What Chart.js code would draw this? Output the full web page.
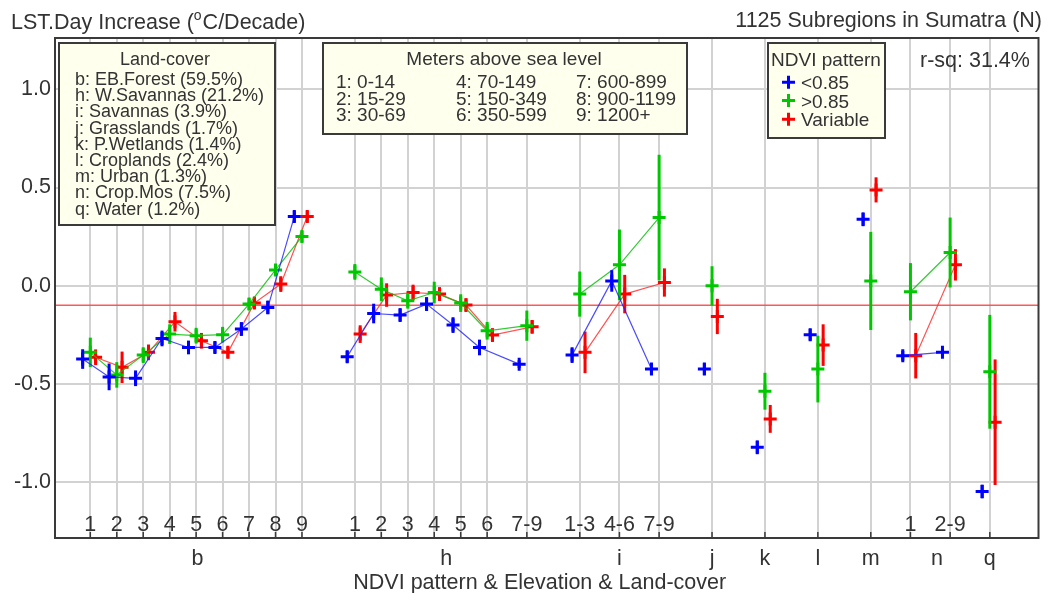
<!DOCTYPE html>
<html><head><meta charset="utf-8">
<script src="https://cdn.jsdelivr.net/npm/chart.js@4.4.1/dist/chart.umd.min.js"></script>
<style>html,body{margin:0;padding:0;background:#fff;overflow:hidden}#wrap{width:1048px;height:593px}</style>
</head><body><div id="wrap"><canvas id="c" width="1048" height="593"></canvas></div>
<script>
// ---------- data ----------
const categoryLabels = ['1','2','3','4','5','6','7','8','9','1','2','3','4','5','6','7-9','1-3','4-6','7-9','','','','','1','2-9',''];
const categoryPositions = [0,1,2,3,4,5,6,7,8,10,11,12,13,14,15,16.5,18.5,20,21.5,23.5,25.5,27.5,29.5,31,32.5,34];
const categoryGroups = ['b','b','b','b','b','b','b','b','b','h','h','h','h','h','h','h','i','i','i','j','k','l','m','n','n','q'];
const groupLabels = ['b','h','i','j','k','l','m','n','q'];
const groupPositions = [4.05,13.45,20,23.5,25.5,27.5,29.5,32,34];
const yTicks = [-1,-0.5,0,0.5,1];
const referenceValue = -0.1;

const blueValues = [-0.374,-0.465,-0.472,-0.269,-0.315,-0.315,-0.221,-0.111,0.352, -0.362,-0.142,-0.150,-0.094,-0.201,-0.315,-0.400, -0.354,0.024,-0.425, -0.425, -0.824, -0.250, 0.338, -0.357,-0.340, -1.049];
const blueErrors = [0.05,0.068,0.04,0.04,0.035,0.03,0.035,0.035,0.03, 0.03,0.05,0.035,0.035,0.04,0.04,0.02, 0.04,0.055,0.03, 0.03, 0.035, 0.03, 0.035, 0.025,0.02, 0.035];
const greenValues = [-0.340,-0.455,-0.354,-0.247,-0.255,-0.250,-0.094,0.080,0.250, 0.070,-0.018,-0.077,-0.035,-0.089,-0.230,-0.204, -0.043,0.106,0.347, -0.001, -0.538, -0.425, 0.024, -0.031,0.169, -0.439];
const greenErrors = [0.075,0.065,0.04,0.05,0.04,0.04,0.03,0.03,0.03, 0.04,0.06,0.04,0.055,0.045,0.045,0.077, 0.115,0.18,0.32, 0.10, 0.094, 0.17, 0.25, 0.146,0.178, 0.29];
const redValues = [-0.365,-0.416,-0.340,-0.184,-0.281,-0.340,-0.089,0.008,0.352, -0.247,-0.048,-0.035,-0.043,-0.099,-0.252,-0.210, -0.340,-0.043,0.016, -0.157, -0.679, -0.303, 0.488, -0.357,0.106, -0.696];
const redErrors = [0.04,0.08,0.04,0.05,0.04,0.03,0.03,0.04,0.03, 0.045,0.06,0.04,0.035,0.035,0.035,0.035, 0.106,0.098,0.072, 0.09, 0.071, 0.106, 0.064, 0.116,0.08, 0.32];

const landCoverTitle = 'Land-cover';
const landCoverItems = ['b: EB.Forest (59.5%)','h: W.Savannas (21.2%)','i: Savannas (3.9%)','j: Grasslands (1.7%)','k: P.Wetlands (1.4%)','l: Croplands (2.4%)','m: Urban (1.3%)','n: Crop.Mos (7.5%)','q: Water (1.2%)'];
const elevationTitle = 'Meters above sea level';
const elevationItems = ['1: 0-14','2: 15-29','3: 30-69','4: 70-149','5: 150-349','6: 350-599','7: 600-899','8: 900-1199','9: 1200+'];
const ndviTitle = 'NDVI pattern';
const seriesNames = ['<0.85','>0.85','Variable'];
const seriesColors = ['#0000ff','#00c800','#ff0000'];
const rsqText = 'r-sq: 31.4%';
const titleLeftA = 'LST.Day Increase (', titleLeftSup = 'o', titleLeftB = 'C/Decade)';
const titleRight = '1125 Subregions in Sumatra (N)';
const xAxisTitle = 'NDVI pattern & Elevation & Land-cover';

// ---------- build ----------
const FONT = '"Liberation Sans", Arial, Helvetica, sans-serif';
const TXT = '#333333';
function buildData(vals, errs, offset){
  const out = [];
  for (let i = 0; i < vals.length; i++) {
    if (i > 0 && categoryGroups[i] !== categoryGroups[i-1]) out.push({x:(categoryPositions[i-1]+categoryPositions[i])/2, y:null, e:0});
    out.push({x: categoryPositions[i] + offset, y: vals[i], e: errs[i]});
  }
  return out;
}
const lineColors = ['rgba(30,30,255,0.8)','rgba(0,190,0,0.8)','rgba(255,40,40,0.8)'];
const offsets = [-0.29, 0, 0.2];
const allVals = [blueValues, greenValues, redValues];
const allErrs = [blueErrors, greenErrors, redErrors];
const datasets = seriesNames.map((n,k)=>({
  label:n, data: buildData(allVals[k], allErrs[k], offsets[k]),
  borderColor: lineColors[k], borderWidth: 1.2,
  pointStyle:'cross', pointRadius:6.5, pointHoverRadius:6.5, pointBorderWidth:3,
  pointBorderColor: seriesColors[k], pointBackgroundColor: seriesColors[k],
  spanGaps:false, tension:0, fill:false
}));

const decor = {
  id:'decor',
  beforeDatasetsDraw(chart){
    const {ctx, chartArea:a, scales:{y}} = chart;
    const py = y.getPixelForValue(referenceValue);
    ctx.save(); ctx.strokeStyle='rgba(255,70,70,0.9)'; ctx.lineWidth=1.7;
    ctx.beginPath(); ctx.moveTo(a.left,py); ctx.lineTo(a.right,py); ctx.stroke(); ctx.restore();
  },
  afterDatasetDraw(chart, args){
    const {ctx, scales:{y}} = chart;
    const ds = chart.data.datasets[args.index];
    const meta = args.meta;
    ctx.save(); ctx.strokeStyle = ds.pointBorderColor; ctx.lineWidth = 3;
    ds.data.forEach((p,i)=>{
      if (p.y === null || !p.e) return;
      const el = meta.data[i];
      ctx.beginPath(); ctx.moveTo(el.x, y.getPixelForValue(p.y + p.e)); ctx.lineTo(el.x, y.getPixelForValue(p.y - p.e)); ctx.stroke();
    });
    ctx.restore();
  },
  afterDraw(chart){
    const {ctx, chartArea:a, scales:{x}} = chart;
    ctx.save();
    // plot frame
    ctx.strokeStyle='#3a3a3a'; ctx.lineWidth=2;
    ctx.strokeRect(a.left, a.top, a.right-a.left, a.bottom-a.top);
    // small ticks at category positions
    ctx.lineWidth=1.5;
    categoryPositions.forEach(v=>{ const px=x.getPixelForValue(v); ctx.beginPath(); ctx.moveTo(px,a.bottom); ctx.lineTo(px,a.bottom-6); ctx.stroke(); });
    // category labels
    ctx.fillStyle=TXT; ctx.font='21.5px '+FONT; ctx.textAlign='center'; ctx.textBaseline='alphabetic';
    categoryPositions.forEach((v,i)=>{ if(categoryLabels[i]) ctx.fillText(categoryLabels[i], x.getPixelForValue(v), a.bottom-7); });
    groupPositions.forEach((v,i)=>{ ctx.fillText(groupLabels[i], x.getPixelForValue(v), a.bottom+27); });
    ctx.fillText(xAxisTitle, (a.left+a.right)/2 - 7, 589);
    // titles
    ctx.textAlign='left';
    ctx.fillText(titleLeftA, 11, 29);
    let w = ctx.measureText(titleLeftA).width;
    ctx.font='14px '+FONT; ctx.fillText(titleLeftSup, 11+w, 20);
    w += ctx.measureText(titleLeftSup).width + 1;
    ctx.font='21.5px '+FONT; ctx.fillText(titleLeftB, 11+w, 29);
    ctx.textAlign='right'; ctx.fillText(titleRight, 1042, 27);
    ctx.textAlign='left'; ctx.fillText(rsqText, 920, 67);
    // legend boxes
    function box(l,t,r,b){ ctx.fillStyle='#ffffee'; ctx.fillRect(l,t,r-l,b-t); ctx.strokeStyle='#3a3a3a'; ctx.lineWidth=2; ctx.strokeRect(l,t,r-l,b-t); ctx.fillStyle=TXT; }
    box(59,43,275,225);
    ctx.font='18px '+FONT; ctx.textAlign='center'; ctx.fillText(landCoverTitle, 165, 65);
    ctx.textAlign='left';
    landCoverItems.forEach((s,i)=> ctx.fillText(s, 75, 85 + i*16.2));
    box(323,43,687,134);
    ctx.font='19px '+FONT; ctx.textAlign='center'; ctx.fillText(elevationTitle, 504, 65);
    ctx.textAlign='left';
    const colX=[336,456,576];
    elevationItems.forEach((s,i)=> ctx.fillText(s, colX[Math.floor(i/3)], 88.3 + (i%3)*16.5));
    box(768,43,885,138);
    ctx.textAlign='center'; ctx.fillText(ndviTitle, 826, 66);
    ctx.textAlign='left';
    const rowY=[82.3,100.5,119.3];
    seriesNames.forEach((s,i)=>{
      ctx.strokeStyle=seriesColors[i]; ctx.lineWidth=3;
      ctx.beginPath(); ctx.moveTo(782,rowY[i]); ctx.lineTo(795,rowY[i]); ctx.moveTo(788.5,rowY[i]-6.5); ctx.lineTo(788.5,rowY[i]+6.5); ctx.stroke();
      ctx.fillStyle=TXT; ctx.fillText(s, 801, rowY[i]+7);
    });
    ctx.restore();
  }
};

new Chart(document.getElementById('c'), {
  type:'line',
  data:{datasets},
  options:{
    responsive:false, animation:false, devicePixelRatio:1,
    layout:{padding:{top:38,right:5,left:0,bottom:0}},
    plugins:{legend:{display:false}, tooltip:{enabled:false}},
    scales:{
      x:{type:'linear', position:'bottom', min:-1.335, max:35.84,
        afterFit(s){ s.height = 55; },
        afterBuildTicks(s){ s.ticks = categoryPositions.map(v=>({value:v})); },
        ticks:{display:false},
        grid:{color:'rgb(210,210,210)', lineWidth:2, drawTicks:false},
        border:{display:false}},
      y:{type:'linear', min:-1.286, max:1.262,
        afterFit(s){ s.width = 55; },
        afterBuildTicks(s){ s.ticks = yTicks.map(v=>({value:v})); },
        ticks:{callback:v=>Number(v).toFixed(1), font:{family:FONT, size:21.5}, color:TXT, padding:4},
        grid:{color:'rgb(210,210,210)', lineWidth:2, drawTicks:false},
        border:{display:false}}
    }
  },
  plugins:[decor]
});
</script></body></html>
